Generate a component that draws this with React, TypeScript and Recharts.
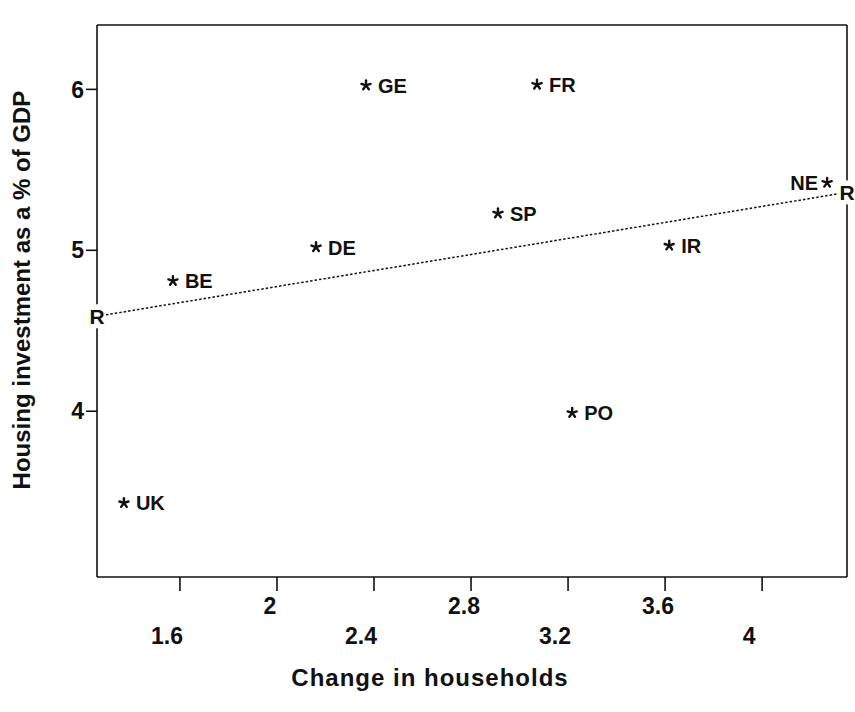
import { ScatterChart, Scatter, XAxis, YAxis } from "recharts";

// values
const countries = ["UK", "BE", "DE", "GE", "FR", "SP", "IR", "PO", "NE"];
const householdChange = [1.369, 1.571, 2.161, 2.367, 3.072, 2.911, 3.617, 3.217, 4.268];
const housingInvestment = [3.43, 4.81, 5.02, 6.025, 6.03, 5.23, 5.03, 3.99, 5.42];
const leftLabelled = ["NE"];

// regression line, drawn edge to edge
const fitX = [1.258, 4.35];
const fitY = [4.59, 5.36];

const xTicks = [1.6, 2, 2.4, 2.8, 3.2, 3.6, 4];
const yTicks = [4, 5, 6];
const xDomain = [1.258, 4.35];
const yDomain = [2.97, 6.4];

const points = countries.map((name, i) => ({
  name,
  x: householdChange[i],
  y: housingInvestment[i],
}));
const fitLine = fitX.map((x, i) => ({ x, y: fitY[i] }));

const font = "'Liberation Sans', Arial, sans-serif";
const ink = "#111";

const StarMark = (props: any) => {
  const { cx, cy, payload } = props;
  const r = 4.8;
  const arms = [0, 1, 2, 3, 4].map((i) => {
    const a = -Math.PI / 2 + (i * 2 * Math.PI) / 5;
    return (
      <line
        key={i}
        x1={cx}
        y1={cy}
        x2={cx + r * Math.cos(a)}
        y2={cy + r * Math.sin(a)}
        stroke={ink}
        strokeWidth={2.4}
        strokeLinecap="round"
      />
    );
  });
  const left = leftLabelled.includes(payload.name);
  return (
    <g>
      {arms}
      <text
        x={left ? cx - 9 : cx + 12}
        y={cy + 7.5}
        textAnchor={left ? "end" : "start"}
        fontFamily={font}
        fontWeight="bold"
        fontSize={20}
        fill={ink}
      >
        {payload.name}
      </text>
    </g>
  );
};

const RMark = (props: any) => {
  const { cx, cy } = props;
  return (
    <g>
      <rect x={cx - 9} y={cy - 12} width={18} height={24} fill="#fff" />
      <text x={cx} y={cy + 7.5} textAnchor="middle" fontFamily={font} fontWeight="bold" fontSize={21} fill={ink}>
        R
      </text>
    </g>
  );
};

// tick labels alternate between two rows, as in the original plot
const XTick = (props: any) => {
  const { x, y, payload } = props;
  const lower = xTicks.indexOf(payload.value) % 2 === 0;
  return (
    <text
      x={x - (lower ? 13 : 7)}
      y={y + (lower ? 51 : 21)}
      textAnchor="middle"
      fontFamily={font}
      fontWeight="bold"
      fontSize={23}
      fill={ink}
    >
      {String(payload.value)}
    </text>
  );
};

const axisLine = { stroke: ink, strokeWidth: 1.6 };

export default function App() {
  return (
    <div style={{ position: "absolute", left: 0, top: 0, background: "#fff" }}>
      <ScatterChart width={855} height={712} margin={{ top: 24, left: 96, right: 7, bottom: 134 }}>
        <XAxis
          xAxisId="b"
          type="number"
          dataKey="x"
          domain={xDomain}
          ticks={xTicks}
          interval={0}
          height={1}
          tickSize={14}
          axisLine={axisLine}
          tickLine={axisLine}
          tick={<XTick />}
        />
        <XAxis
          xAxisId="t"
          orientation="top"
          type="number"
          dataKey="x"
          domain={xDomain}
          ticks={xTicks}
          interval={0}
          height={1}
          tickSize={15}
          axisLine={axisLine}
          tickLine={axisLine}
          tick={false}
        />
        <YAxis
          yAxisId="l"
          type="number"
          dataKey="y"
          domain={yDomain}
          ticks={yTicks}
          interval={0}
          width={1}
          tickSize={11}
          axisLine={axisLine}
          tickLine={axisLine}
          tick={{ fontFamily: font, fontWeight: "bold", fontSize: 23, fill: ink }}
        />
        <YAxis
          yAxisId="r"
          orientation="right"
          type="number"
          dataKey="y"
          domain={yDomain}
          ticks={yTicks}
          interval={0}
          width={1}
          tickSize={7}
          axisLine={axisLine}
          tickLine={axisLine}
          tick={false}
        />
        <Scatter
          xAxisId="b"
          yAxisId="l"
          data={fitLine}
          line={{ stroke: ink, strokeWidth: 1.5, strokeDasharray: "2.5 2" }}
          shape={<RMark />}
          isAnimationActive={false}
        />
        <Scatter xAxisId="b" yAxisId="l" data={points} shape={<StarMark />} isAnimationActive={false} />
      </ScatterChart>
      <div
        style={{
          position: "absolute",
          left: 0,
          top: 0,
          width: 855,
          height: 712,
          pointerEvents: "none",
        }}
      >
        <svg width={855} height={712}>
          <text
            x={430}
            y={686}
            textAnchor="middle"
            fontFamily={font}
            fontWeight="bold"
            fontSize={24}
            letterSpacing={1}
            fill={ink}
          >
            Change in households
          </text>
          <text
            x={0}
            y={0}
            transform="translate(30 290) rotate(-90)"
            textAnchor="middle"
            fontFamily={font}
            fontWeight="bold"
            fontSize={24}
            fill={ink}
          >
            Housing investment as a % of GDP
          </text>
        </svg>
      </div>
    </div>
  );
}
